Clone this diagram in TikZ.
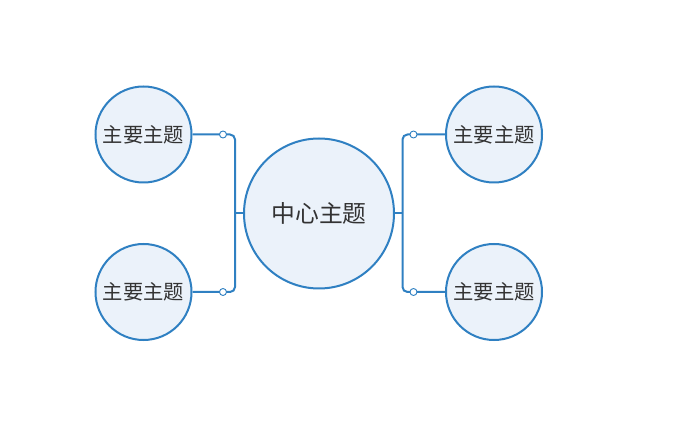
\documentclass[tikz,border=0pt]{standalone}
\usepackage{fontspec}
\newfontfamily\cjk{Noto Sans CJK SC}
\usetikzlibrary{positioning}
\definecolor{topicblue}{HTML}{2F80C2}
\definecolor{topicfill}{HTML}{EBF2FA}
\definecolor{topictext}{HTML}{333333}

\begin{document}
\begin{tikzpicture}[x=1pt,y=-1pt,
                    topic/.style = {circle,draw=topicblue,fill=topicfill,line width=2pt,inner sep=0pt,text=topictext},
                    central/.style = {topic,minimum size=150pt,font=\cjk\fontsize{23.8}{26}\selectfont},
                    main/.style = {topic,minimum size=96pt,font=\cjk\fontsize{20.3}{23}\selectfont},
                    branch/.style = {draw=topicblue,line width=2pt,rounded corners=5pt},
                    knob/.style = {circle,draw=topicblue,fill=white,line width=0.9pt,inner sep=0pt,minimum size=7pt}]
                    \useasboundingbox (0,0) rectangle (680,427);

                    % topics
                    \node[central] (center) at (319,213.5) {中心主题};
                    \node[main]    (lt)     at (143.5,134.5) {主要主题};
                    \node[main]    (lb)     at (143.5,292)   {主要主题};
                    \node[main]    (rt)     at (494,134.5)   {主要主题};
                    \node[main]    (rb)     at (494,292)     {主要主题};

                    % spines
                    \coordinate (lspine) at (235,213.5);
                    \coordinate (rspine) at (402.5,213.5);

                    % left
                    \draw[branch] (center) -- (lspine);
                    \draw[branch] (lt) -- (lt -| lspine) -- (lb -| lspine) -- (lb);

                    % right
                    \draw[branch] (center) -- (rspine);
                    \draw[branch] (rt) -- (rt -| rspine) -- (rb -| rspine) -- (rb);

                    % knobs
                    \node[knob] (klt) at (223,134.5) {};
                    \node[knob] (klb) at (223,292)   {};
                    \node[knob] (krt) at (413.5,134.5) {};
                    \node[knob] (krb) at (413.5,292)   {};

                \end{tikzpicture}
\end{document}
